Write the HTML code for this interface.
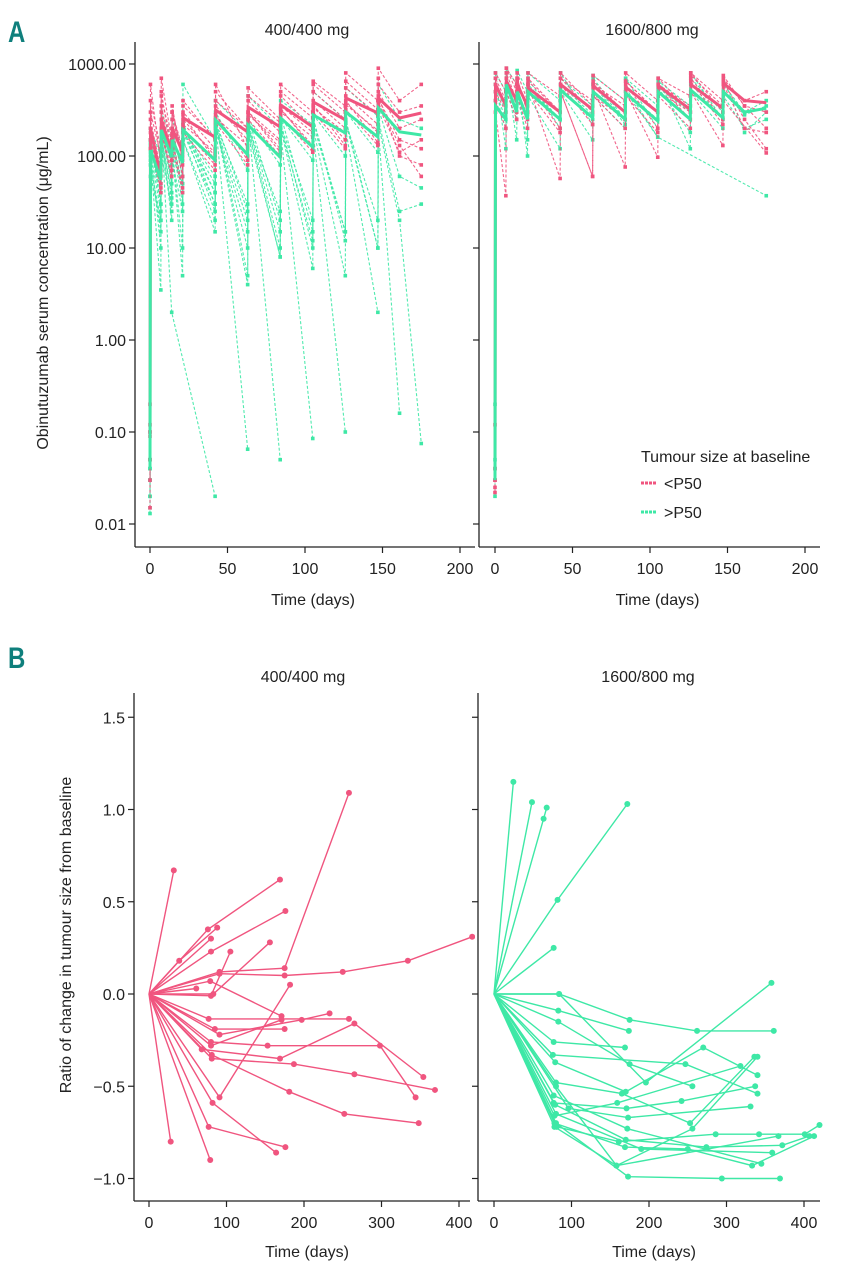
<!DOCTYPE html>
<html><head><meta charset="utf-8">
<style>
body{margin:0;background:#fff;}
svg{display:block;font-family:"Liberation Sans",Arial,sans-serif;}
.tk{font-size:16px;fill:#222;}
.ttl{font-size:16px;fill:#222;}
</style></head><body>
<svg id="fig" width="856" height="1280" viewBox="0 0 856 1280">
</svg>
<script>
// ---------- Panel A data (PK) ----------
const sampleDays = [0,0.3,7,7.3,14,14.3,21,21.3,42,42.3,63,63.3,84,84.3,105,105.3,126,126.3,147,147.3,161,175];
const aTicks = [1000,100,10,1,0.1,0.01];
const aTickLabels = ["1000.00","100.00","10.00","1.00","0.10","0.01"];
const aXTicks = [0,50,100,150,200];
const n = null;
const lowPink = [
 [0.1,600,80,500,100,300,120,400,150,500,200,550,250,600,300,650,350,800,400,900,400,600],
 [0.015,150,60,300,90,250,100,300,120,350,150,400,180,450,200,500,250,550,280,600,300,350],
 [0.09,200,50,250,70,200,60,250,100,600,120,300,150,350,180,400,200,450,220,500,200,250],
 [0.05,300,100,700,150,350,80,280,90,250,100,300,120,320,130,350,150,380,180,420,150,120],
 [0.2,180,40,200,60,150,45,200,80,280,90,300,110,330,120,360,130,400,140,450,100,80],
 [0.1,250,70,350,100,300,110,350,160,400,200,450,230,500,260,600,300,650,320,700,n,n],
 [0.12,400,120,450,140,300,90,220,110,260,130,280,140,300,160,330,180,360,190,380,130,60],
 [0.03,120,45,180,60,130,40,180,70,230,80,250,100,270,110,300,120,320,130,350,110,150]
];
const lowGreen = [
 [0.015,120,10,200,2,n,n,n,0.02,n,n,n,n,n,n,n,n,n,n,n,n,n],
 [0.04,100,3.5,180,20,120,5,180,30,220,0.065,n,n,n,n,n,n,n,n,n,n,n],
 [0.013,80,20,160,40,100,50,200,50,250,5,250,0.05,n,n,n,n,n,n,n,n,n],
 [0.03,150,30,250,50,200,60,220,40,230,4,200,8,180,0.085,n,n,n,n,n,n,n],
 [0.05,90,15,150,25,120,10,150,20,200,15,220,10,200,6,180,0.1,n,n,n,n,n],
 [0.04,110,25,170,35,140,30,200,25,210,20,230,15,220,10,200,5,190,2,n,n,n],
 [0.02,130,40,200,60,150,50,190,40,220,30,200,25,220,20,250,15,230,10,200,0.16,n],
 [0.03,140,30,190,50,160,40,230,30,240,25,260,20,280,15,260,12,250,10,220,20,0.075],
 [0.05,150,50,250,80,200,60,200,60,300,70,250,80,260,90,280,100,300,110,330,60,45],
 [0.03,60,20,100,30,90,25,150,15,200,10,180,8,200,12,220,15,230,20,250,25,30],
 [0.02,200,100,300,150,250,120,600,150,400,180,450,200,400,220,500,250,550,270,600,250,200]
];
const highPink = [
 [0.025,500,300,800,400,700,300,600,57,500,60,450,250,600,200,500,300,700,250,650,250,120],
 [0.022,700,400,900,500,800,400,700,300,800,350,750,400,800,400,700,450,800,400,750,350,300],
 [0.03,400,200,500,250,450,200,500,180,600,220,550,76,500,97,600,250,650,220,600,200,180],
 [0.12,300,37,600,300,550,250,600,200,500,60,450,200,450,180,450,200,500,130,400,n,108],
 [0.04,600,350,700,400,650,350,650,300,700,300,650,300,650,300,700,300,750,350,700,350,200],
 [0.03,800,500,900,600,700,300,800,450,700,400,600,350,650,300,600,350,800,300,650,400,500]
];
const highGreen = [
 [0.2,600,300,700,350,650,300,600,250,550,250,600,220,550,160,n,n,n,n,n,n,37],
 [0.02,800,500,900,600,850,500,800,400,700,350,750,400,700,350,650,350,700,300,600,300,400],
 [0.05,400,200,500,250,450,150,450,120,500,150,450,200,500,160,550,180,500,200,450,200,250],
 [0.03,500,250,600,300,500,280,550,250,600,280,600,250,500,250,550,300,600,260,500,280,350],
 [0.04,700,120,800,150,700,100,700,200,800,220,700,250,700,200,700,120,800,250,700,180,300]
];
const meanLowPink = [0.1,200,60,250,110,200,110,260,160,316,183,340,207,358,207,387,247,427,293,427,259,293];
const meanLowGreen = [0.04,116,55,192,97,150,84,192,90,247,103,217,97,259,125,279,178,301,161,333,183,169];
const meanHighPink = [0.03,600,350,650,400,600,350,550,300,600,320,580,300,560,300,580,320,600,330,620,400,380];
const meanHighGreen = [0.03,350,250,600,300,500,250,500,250,520,260,500,250,480,240,500,250,520,260,500,300,330];

// ---------- Panel B data (tumour size) ----------
const bYTicks = [1.5,1.0,0.5,0.0,-0.5,-1.0];
const bYLabels = ["1.5","1.0","0.5","0.0","\u22120.5","\u22121.0"];
const bXTicks = [0,100,200,300,400];
const tumourLow = [
 [[0,0],[32,0.67]],
 [[0,0],[76,0.35],[169,0.62]],
 [[0,0],[39,0.18],[88,0.36]],
 [[0,0],[80,0.30]],
 [[0,0],[80,0.23],[176,0.45]],
 [[0,0],[80,-0.01],[105,0.23]],
 [[0,0],[83,0.0],[156,0.28]],
 [[0,0],[91,-0.56],[182,0.05]],
 [[0,0],[91,0.12],[175,0.14],[258,1.09]],
 [[0,0],[91,0.11],[175,0.10],[250,0.12],[334,0.18],[417,0.31]],
 [[0,0],[79,0.07],[171,-0.12]],
 [[0,0],[61,0.03]],
 [[0,0],[77,-0.135],[258,-0.135]],
 [[0,0],[85,-0.19],[175,-0.19]],
 [[0,0],[91,-0.22],[197,-0.14],[233,-0.105]],
 [[0,0],[80,-0.26],[153,-0.28],[298,-0.28],[344,-0.56]],
 [[0,0],[68,-0.30],[169,-0.35],[265,-0.16],[354,-0.45]],
 [[0,0],[81,-0.35],[187,-0.38],[265,-0.435],[369,-0.52]],
 [[0,0],[81,-0.33],[181,-0.53],[252,-0.65],[348,-0.70]],
 [[0,0],[82,-0.59],[164,-0.86]],
 [[0,0],[77,-0.72],[176,-0.83]],
 [[0,0],[28,-0.80]],
 [[0,0],[79,-0.90]],
 [[0,0],[80,-0.28],[171,-0.14]]
];
const tumourHigh = [
 [[0,0],[25,1.15]],
 [[0,0],[49,1.04]],
 [[0,0],[64,0.95],[68,1.01]],
 [[0,0],[82,0.51],[172,1.03]],
 [[0,0],[77,0.25]],
 [[0,0],[84,0],[196,-0.48],[358,0.06]],
 [[0,0],[84,0],[175,-0.14],[262,-0.20],[361,-0.20]],
 [[0,0],[83,-0.09],[174,-0.20]],
 [[0,0],[83,-0.15],[175,-0.38],[256,-0.50]],
 [[0,0],[77,-0.26],[169,-0.29]],
 [[0,0],[79,-0.37],[170,-0.53],[270,-0.29],[340,-0.44]],
 [[0,0],[76,-0.33],[247,-0.38],[340,-0.54]],
 [[0,0],[80,-0.48],[165,-0.54],[253,-0.70],[336,-0.34]],
 [[0,0],[78,-0.66],[159,-0.59],[318,-0.39]],
 [[0,0],[96,-0.62],[173,-0.67],[331,-0.61]],
 [[0,0],[77,-0.59],[171,-0.62],[242,-0.58],[337,-0.50]],
 [[0,0],[78,-0.72],[158,-0.93],[256,-0.73],[340,-0.34]],
 [[0,0],[81,-0.72],[161,-0.80],[286,-0.76],[342,-0.76],[401,-0.76],[420,-0.71]],
 [[0,0],[80,-0.70],[173,-0.99],[294,-1.0],[369,-1.0]],
 [[0,0],[78,-0.70],[169,-0.83],[250,-0.84],[333,-0.93],[413,-0.77]],
 [[0,0],[79,-0.60],[170,-0.79],[274,-0.83],[372,-0.82],[407,-0.77]],
 [[0,0],[80,-0.65],[190,-0.84],[359,-0.86]],
 [[0,0],[77,-0.55],[172,-0.73],[345,-0.92]],
 [[0,0],[80,-0.50],[158,-0.93],[367,-0.77]]
];

const PINK = "#f0557f", GREEN = "#3ee8a6";
const NS = "http://www.w3.org/2000/svg";
const svg = document.getElementById("fig");
function mk(tag, attrs, parent, text){
  const e = document.createElementNS(NS, tag);
  for (const k in attrs) e.setAttribute(k, attrs[k]);
  if (text !== undefined) e.textContent = text;
  (parent || svg).appendChild(e);
  return e;
}
const aY = c => 64 + (3 - Math.log10(c)) * 92;
const aXL = d => 150 + d * 1.55;
const aXR = d => 495 + d * 1.55;
const bY = r => 994 - r * 184.5;
const bXL = d => 149 + d * 0.775;
const bXR = d => 494 + d * 0.775;

const defs = mk("defs", {});
function clip(id, x, y, w, h){ const c = mk("clipPath", {id: id}, defs); mk("rect", {x:x, y:y, width:w, height:h}, c); }
clip("cAL", 136, 40, 340, 506); clip("cAR", 480, 40, 345, 506);
clip("cBL", 135, 690, 340, 510); clip("cBR", 479, 690, 350, 510);

function drawAxisA(xAxisX, x1, sx, showLabels, name){
  const g = mk("g", {});
  
  
  mk("line", {x1:xAxisX, y1:42, x2:xAxisX, y2:547, stroke:"#222", "stroke-width":1.3}, g);
  mk("line", {x1:xAxisX, y1:547, x2:x1, y2:547, stroke:"#222", "stroke-width":1.3}, g);
  aTicks.forEach((t,i)=>{
    const y = aY(t);
    mk("line", {x1:xAxisX-6, y1:y, x2:xAxisX, y2:y, stroke:"#222", "stroke-width":1.2}, g);
    if (showLabels){
      const tx = mk("text", {x:xAxisX-9, y:y+6, "text-anchor":"end", class:"tk"}, g, aTickLabels[i]);
      
      
    }
  });
  aXTicks.forEach(t=>{
    const x = sx(t);
    mk("line", {x1:x, y1:547, x2:x, y2:553, stroke:"#222", "stroke-width":1.2}, g);
    const tx = mk("text", {x:x, y:574, "text-anchor":"middle", class:"tk"}, g, String(t));
    
    
  });
  const xt = mk("text", {x:(xAxisX+x1)/2+8, y:605, "text-anchor":"middle", class:"ttl"}, g, "Time (days)");
  
  
}
function drawAxisB(xAxisX, x1, sx, showLabels, name){
  const g = mk("g", {});
  
  
  mk("line", {x1:xAxisX, y1:693, x2:xAxisX, y2:1201, stroke:"#222", "stroke-width":1.3}, g);
  mk("line", {x1:xAxisX, y1:1201, x2:x1, y2:1201, stroke:"#222", "stroke-width":1.3}, g);
  bYTicks.forEach((t,i)=>{
    const y = bY(t);
    mk("line", {x1:xAxisX-6, y1:y, x2:xAxisX, y2:y, stroke:"#222", "stroke-width":1.2}, g);
    if (showLabels){
      const tx = mk("text", {x:xAxisX-9, y:y+6, "text-anchor":"end", class:"tk"}, g, bYLabels[i]);
      
      
    }
  });
  bXTicks.forEach(t=>{
    const x = sx(t);
    mk("line", {x1:x, y1:1201, x2:x, y2:1207, stroke:"#222", "stroke-width":1.2}, g);
    const tx = mk("text", {x:x, y:1228, "text-anchor":"middle", class:"tk"}, g, String(t));
    
    
  });
  const xt = mk("text", {x:(xAxisX+x1)/2+5, y:1257, "text-anchor":"middle", class:"ttl"}, g, "Time (days)");
  
  
}

function pkSeries(vals, sx, color, clipId, isMean){
  const pts = [];
  vals.forEach((v,i)=>{ if (v !== null && v !== undefined) pts.push([sx(sampleDays[i]), aY(v)]); });
  const g = mk("g", {"clip-path":"url(#"+clipId+")"});
  
  
  mk("polyline", {points: pts.map(p=>p[0].toFixed(1)+","+p[1].toFixed(1)).join(" "), fill:"none", stroke:color,
    "stroke-width": isMean ? 3 : 1.1, "stroke-dasharray": isMean ? "none" : "3,2", opacity: isMean ? 1 : 0.9}, g);
  if (!isMean) pts.forEach(p=>mk("rect", {x:p[0]-1.8, y:p[1]-1.8, width:3.6, height:3.6, fill:color}, g));
}
function tumourSeries(sub, sx, color, clipId){
  const g = mk("g", {"clip-path":"url(#"+clipId+")"});
  
  
  const pts = sub.map(p=>[sx(p[0]), bY(p[1])]);
  mk("polyline", {points: pts.map(p=>p[0].toFixed(1)+","+p[1].toFixed(1)).join(" "), fill:"none", stroke:color, "stroke-width":1.4}, g);
  pts.slice(1).forEach(p=>mk("circle", {cx:p[0], cy:p[1], r:3, fill:color}, g));
}

drawAxisA(135, 475, aXL, true, "pk-400-axes");
drawAxisA(479, 820, aXR, false, "pk-1600-axes");
lowGreen.forEach(s=>pkSeries(s, aXL, GREEN, "cAL", false));
lowPink.forEach(s=>pkSeries(s, aXL, PINK, "cAL", false));
highGreen.forEach(s=>pkSeries(s, aXR, GREEN, "cAR", false));
highPink.forEach(s=>pkSeries(s, aXR, PINK, "cAR", false));
pkSeries(meanLowPink, aXL, PINK, "cAL", true);
pkSeries(meanLowGreen, aXL, GREEN, "cAL", true);
pkSeries(meanHighPink, aXR, PINK, "cAR", true);
pkSeries(meanHighGreen, aXR, GREEN, "cAR", true);

drawAxisB(134, 470, bXL, true, "tumour-400-axes");
drawAxisB(478, 820, bXR, false, "tumour-1600-axes");
tumourLow.forEach(s=>tumourSeries(s, bXL, PINK, "cBL"));
tumourHigh.forEach(s=>tumourSeries(s, bXR, GREEN, "cBR"));
</script>
<script>
(function(){
const NS="http://www.w3.org/2000/svg", svg=document.getElementById("fig");
function t(x,y,txt,attrs,name){
  const e=document.createElementNS(NS,"text");
  e.setAttribute("x",x); e.setAttribute("y",y);
  for(const k in attrs) e.setAttribute(k,attrs[k]);
  e.textContent=txt;
  
  
  svg.appendChild(e); return e;
}
t(8,42,"A",{"font-size":"30","font-weight":"bold",fill:"#0f7f7c","transform":"scale(0.8,1) translate(2,0)"},"panel-a-label");
t(8,668,"B",{"font-size":"30","font-weight":"bold",fill:"#0f7f7c","transform":"scale(0.8,1) translate(2,0)"},"panel-b-label");
t(307,35,"400/400 mg",{"font-size":"16","text-anchor":"middle",fill:"#222"},"panel-title-400");
t(652,35,"1600/800 mg",{"font-size":"16","text-anchor":"middle",fill:"#222"},"panel-title-1600");
t(303,682,"400/400 mg",{"font-size":"16","text-anchor":"middle",fill:"#222"},"panel-title-400-b");
t(648,682,"1600/800 mg",{"font-size":"16","text-anchor":"middle",fill:"#222"},"panel-title-1600-b");
t(0,0,"Obinutuzumab serum concentration (\u03bcg/mL)",{"font-size":"16","text-anchor":"middle",fill:"#222",transform:"translate(48,293) rotate(-90)"},"y-axis-title-a");
t(0,0,"Ratio of change in tumour size from baseline",{"font-size":"16","text-anchor":"middle",fill:"#222",transform:"translate(71,935) rotate(-90)"},"y-axis-title-b");
t(641,462,"Tumour size at baseline",{"font-size":"16",fill:"#222"},"legend-title");
t(664,489,"<P50",{"font-size":"16",fill:"#222"},"legend-label-low");
t(664,518,">P50",{"font-size":"16",fill:"#222"},"legend-label-high");
function l(y,c,name){const e=document.createElementNS(NS,"line");
 e.setAttribute("x1",641);e.setAttribute("x2",656);e.setAttribute("y1",y);e.setAttribute("y2",y);
 e.setAttribute("stroke",c);e.setAttribute("stroke-width",3);e.setAttribute("stroke-dasharray","3,1");
 
 
 svg.appendChild(e);}
l(483,"#f0557f","legend-swatch-low"); l(512,"#3ee8a6","legend-swatch-high");
})();
</script>
</body></html>
